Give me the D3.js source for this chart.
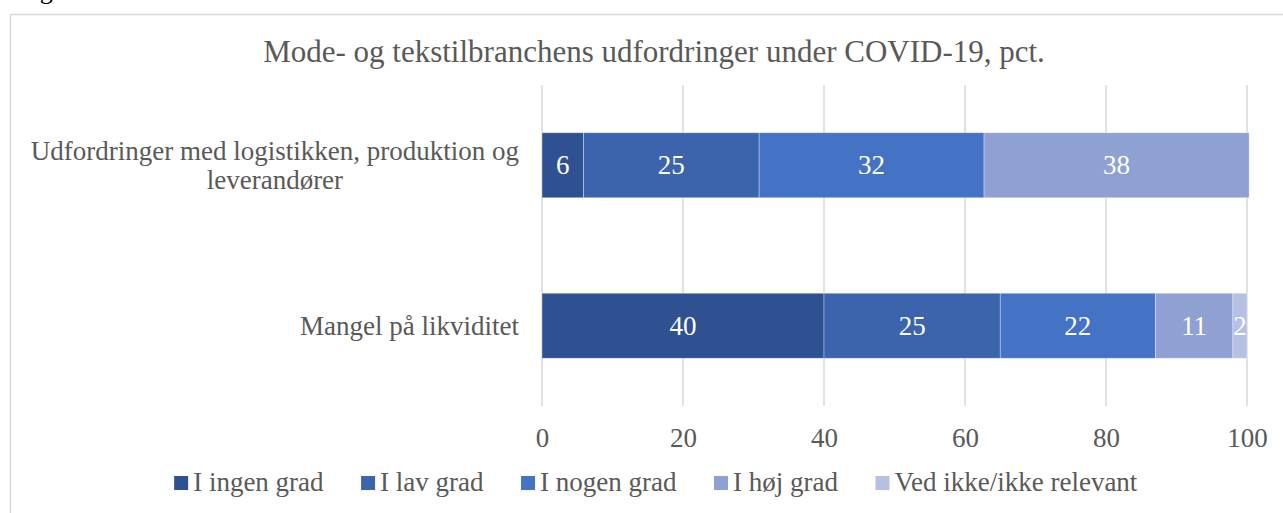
<!DOCTYPE html>
<html>
<head>
<meta charset="utf-8">
<script src="https://cdn.jsdelivr.net/npm/d3@7"></script>
<style>
  body { margin: 0; background: #fff; }
  svg { display: block; }
  text { font-family: "Liberation Serif", "DejaVu Serif", serif; }
</style>
</head>
<body>
<div id="chart"></div>
<script>
// data
var categories = [
  ["Udfordringer med logistikken, produktion og", "leverandører"],
  ["Mangel på likviditet"]
];
var seriesNames = ["I ingen grad", "I lav grad", "I nogen grad", "I høj grad", "Ved ikke/ikke relevant"];
var seriesColors = ["#2f5191", "#3b64ad", "#4472c4", "#8fa1d3", "#b5c0e3"];
// values per category (rows), in series order
var valuesLogistik = [5.9, 24.9, 31.9, 37.6, 0];
var valuesLikviditet = [40, 25, 22, 11, 2];
var tickValues = [0, 20, 40, 60, 80, 100];
var title = "Mode- og tekstilbranchens udfordringer under COVID-19, pct.";

(function() {
  var width = 1283, height = 513;
  var plotLeft = 542, plotRight = 1247, plotTop = 85, plotBottom = 406;
  var textGray = "#595959", gridColor = "#d9d9d9";
  var fontSize = 27;

  var svg = d3.select("#chart").append("svg")
    .attr("width", width)
    .attr("height", height);

  // page caption, cut off at the top edge
  svg.append("text")
    .attr("x", 18)
    .attr("y", -1)
    .style("font-size", "26px")
    .style("fill", "#000")
    .text("Figur 1");

  // chart area border
  svg.append("rect")
    .attr("x", 10.5).attr("y", 14.5)
    .attr("width", 1300).attr("height", 520)
    .style("fill", "none")
    .style("stroke", gridColor)
    .style("stroke-width", "1.5px");

  svg.append("text")
    .attr("x", 654)
    .attr("y", 62)
    .attr("text-anchor", "middle")
    .style("font-size", "31px")
    .style("fill", textGray)
    .text(title);

  var x = d3.scaleLinear().domain([0, 100]).range([plotLeft, plotRight]);
  var y = d3.scaleBand()
    .domain(d3.range(categories.length))
    .range([plotTop, plotBottom])
    .paddingInner(0.595)
    .paddingOuter(0.2975);

  // gridlines
  svg.append("g")
    .selectAll("line")
    .data(tickValues)
    .enter().append("line")
    .attr("x1", function(d) { return x(d); })
    .attr("x2", function(d) { return x(d); })
    .attr("y1", plotTop)
    .attr("y2", plotBottom)
    .style("stroke", gridColor)
    .style("stroke-width", "1.5px");

  // x axis labels
  var axis = d3.axisBottom(x)
    .tickValues(tickValues)
    .tickSize(0)
    .tickPadding(0);
  var gAxis = svg.append("g")
    .attr("transform", "translate(0," + (plotBottom + 32) + ")")
    .call(axis);
  gAxis.select("path").remove();
  gAxis.selectAll(".tick text")
    .attr("y", 0)
    .attr("dy", "0.34em")
    .style("font-family", "Liberation Serif")
    .style("font-size", fontSize + "px")
    .style("fill", textGray);

  // stacked bars
  var rows = [valuesLogistik, valuesLikviditet];
  rows.forEach(function(vals, i) {
    var acc = 0;
    var segs = vals.map(function(v, k) {
      var s = { x0: acc, x1: acc + v, v: v, k: k };
      acc += v;
      return s;
    }).filter(function(s) { return s.v > 0; });

    var g = svg.append("g");
    g.selectAll("rect")
      .data(segs)
      .enter().append("rect")
      .attr("x", function(d) { return x(d.x0); })
      .attr("width", function(d) { return x(d.x1) - x(d.x0); })
      .attr("y", y(i))
      .attr("height", y.bandwidth())
      .style("fill", function(d) { return seriesColors[d.k]; })
      .style("stroke", "rgba(255,255,255,0.45)")
      .style("stroke-width", "0.75px");

    g.selectAll("text")
      .data(segs)
      .enter().append("text")
      .attr("x", function(d) { return (x(d.x0) + x(d.x1)) / 2; })
      .attr("y", y(i) + y.bandwidth() / 2)
      .attr("dy", "0.34em")
      .attr("text-anchor", "middle")
      .style("font-size", fontSize + "px")
      .style("fill", "#fff")
      .text(function(d) { return Math.round(d.v); });
  });

  // category labels, wrapped lines centred within a right-aligned block
  categories.forEach(function(lines, i) {
    var g = svg.append("g");
    var texts = lines.map(function(line) {
      return g.append("text")
        .style("font-size", fontSize + "px")
        .style("fill", textGray)
        .attr("text-anchor", "middle")
        .text(line);
    });
    var maxW = d3.max(texts, function(t) { return t.node().getComputedTextLength(); });
    var cx = 519 - maxW / 2;
    var lh = 29;
    var cy = y(i) + y.bandwidth() / 2;
    texts.forEach(function(t, j) {
      t.attr("x", cx)
        .attr("y", cy + (j - (lines.length - 1) / 2) * lh)
        .attr("dy", "0.34em");
    });
  });

  // legend
  var legend = svg.append("g");
  var items = seriesNames.map(function(name, k) {
    var it = legend.append("g");
    it.append("rect")
      .attr("width", 14).attr("height", 14)
      .attr("y", -15)
      .style("fill", seriesColors[k]);
    it.append("text")
      .attr("x", 19)
      .attr("y", 0)
      .style("font-size", fontSize + "px")
      .style("fill", textGray)
      .text(name);
    return it;
  });
  var gap = 37;
  var widths = items.map(function(it) { return it.node().getBBox().width; });
  var total = d3.sum(widths) + gap * (items.length - 1);
  var lx = 656 - total / 2;
  items.forEach(function(it, k) {
    it.attr("transform", "translate(" + lx + ",491)");
    lx += widths[k] + gap;
  });
})();
</script>
</body>
</html>
